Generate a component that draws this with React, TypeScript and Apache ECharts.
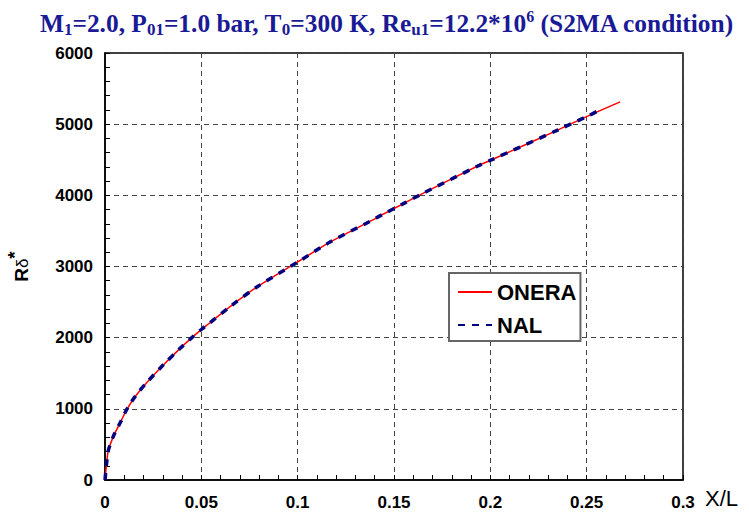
import React, { useEffect, useRef } from "react";
import * as echarts from "echarts";

// Displacement-thickness Reynolds number along the plate, two codes.
const onera_x = [0, 0.0009, 0.0017, 0.0043, 0.0078, 0.0113, 0.0156, 0.0217, 0.0304, 0.039, 0.0451, 0.0503, 0.0538, 0.0651, 0.079, 0.0998, 0.117, 0.138, 0.1432, 0.1554, 0.164, 0.1953, 0.2005, 0.2352, 0.2508, 0.2674];
const onera_y = [0, 250, 410, 610, 800, 990, 1170, 1370, 1620, 1850, 2000, 2120, 2195, 2441, 2714, 3060, 3345, 3640, 3718, 3890, 4014, 4437, 4497, 4920, 5117, 5314];

const nal_x = [0, 0.0009, 0.0017, 0.0043, 0.0078, 0.0113, 0.0156, 0.0217, 0.0304, 0.039, 0.0451, 0.0503, 0.0538, 0.0651, 0.079, 0.0998, 0.117, 0.138, 0.1432, 0.1554, 0.164, 0.1953, 0.2005, 0.2352, 0.2508, 0.2568];
const nal_y = [0, 252, 412, 612, 800, 992, 1172, 1370, 1622, 1850, 2000, 2122, 2195, 2440, 2715, 3058, 3347, 3640, 3718, 3890, 4014, 4436, 4497, 4920, 5117, 5201];

const xTicks = { min: 0, max: 0.3, step: 0.05 };
const yTicks = { min: 0, max: 6000, step: 1000 };

const zip = (xs: number[], ys: number[]) => xs.map((x, i) => [x, ys[i]]);

const SANS = "'Liberation Sans', Arial, sans-serif";
const SERIF = "'Liberation Serif', 'Times New Roman', serif";
const TITLE_BLUE = "#1a1a96";

export default function App() {
  const ref = useRef<HTMLDivElement>(null);

  useEffect(() => {
    document.body.style.margin = "0";
    if (!ref.current) return;
    const chart = echarts.init(ref.current, undefined, { renderer: "svg" });

    const tickLabel = {
      color: "#000",
      fontSize: 17,
      fontWeight: "bold" as const,
      fontFamily: SANS,
    };
    const gridLine = {
      show: true,
      lineStyle: { color: "#444", width: 1, type: [5, 4] as number[] },
    };

    chart.setOption({
      animation: false,
      backgroundColor: "#fff",
      title: {
        left: 40,
        top: 8,
        padding: 0,
        text:
          "{a|M}{s|1}{a|=2.0, P}{s|01}{a|=1.0 bar, T}{s|0}{a|=300 K, Re}{s|u1}{a|=12.2*10}{p|6}{a| (S2MA condition)}",
        textStyle: {
          rich: {
            a: { fontSize: 25.4, lineHeight: 30, fontWeight: "bold", fontFamily: SERIF, color: TITLE_BLUE, verticalAlign: "middle" },
            s: { fontSize: 17, lineHeight: 18, fontWeight: "bold", fontFamily: SERIF, color: TITLE_BLUE, verticalAlign: "bottom" },
            p: { fontSize: 16, lineHeight: 25, fontWeight: "bold", fontFamily: SERIF, color: TITLE_BLUE, verticalAlign: "top" },
          },
        },
      },
      grid: {
        left: 105,
        right: 66,
        top: 53,
        bottom: 38,
        outerBoundsMode: "none",
        containLabel: false,
        show: true,
        borderColor: "#000",
        borderWidth: 1.5,
        backgroundColor: "transparent",
      },
      legend: {
        orient: "vertical",
        left: 449,
        top: 273,
        padding: [8, 4, 5, 8],
        itemWidth: 34,
        itemHeight: 14,
        itemGap: 11,
        backgroundColor: "#fff",
        borderColor: "#666",
        borderWidth: 2,
        itemStyle: { opacity: 0 },
        textStyle: { color: "#000", fontSize: 22, fontWeight: "bold", fontFamily: SANS, lineHeight: 22 },
        data: ["ONERA", "NAL"],
      },
      xAxis: {
        type: "value",
        min: xTicks.min,
        max: xTicks.max,
        interval: xTicks.step,
        name: "X/L",
        nameLocation: "end",
        nameGap: 22,
        nameTextStyle: {
          color: "#000",
          fontSize: 22,
          fontFamily: SANS,
          align: "left",
          verticalAlign: "top",
          padding: [7, 0, 0, 0],
        },
        axisLine: { show: true, lineStyle: { color: "#000", width: 1.5 } },
        axisTick: { show: true, inside: true, length: 5, lineStyle: { color: "#000" } },
        minorTick: { show: true, splitNumber: 5, length: 5, lineStyle: { color: "#000" } },
        axisLabel: {
          ...tickLabel,
          margin: 14,
          formatter: (v: number) => String(parseFloat(v.toFixed(2))),
        },
        splitLine: gridLine,
      },
      yAxis: {
        type: "value",
        min: yTicks.min,
        max: yTicks.max,
        interval: yTicks.step,
        name: "{r|R}{d|δ}{st|*}",
        nameLocation: "middle",
        nameRotate: 90,
        nameGap: 74,
        nameTextStyle: {
          rich: {
            r: { fontSize: 19, fontWeight: "bold", fontFamily: SANS, color: "#000", lineHeight: 26, verticalAlign: "bottom" },
            d: { fontSize: 17, fontFamily: SANS, color: "#000", lineHeight: 24, verticalAlign: "bottom" },
            st: { fontSize: 19, fontWeight: "bold", fontFamily: SANS, color: "#000", lineHeight: 26, verticalAlign: "top" },
          },
        },
        axisLine: { show: true, lineStyle: { color: "#000", width: 1.5 } },
        axisTick: { show: true, inside: true, length: 5, lineStyle: { color: "#000" } },
        minorTick: { show: true, splitNumber: 5, length: 5, lineStyle: { color: "#000" } },
        axisLabel: { ...tickLabel, margin: 12, formatter: (v: number) => String(v) },
        splitLine: gridLine,
      },
      series: [
        {
          name: "ONERA",
          type: "line",
          data: zip(onera_x, onera_y),
          symbol: "none",
          showSymbol: false,
          smooth: 0.3,
          lineStyle: { color: "#ff0000", width: 1.5 },
          itemStyle: { color: "#ff0000" },
        },
        {
          name: "NAL",
          type: "line",
          data: zip(nal_x, nal_y),
          symbol: "none",
          showSymbol: false,
          smooth: 0.3,
          lineStyle: { color: "#000080", width: 3.5, type: [7, 7] },
          itemStyle: { color: "#000080" },
        },
      ],
    });

    return () => chart.dispose();
  }, []);

  return <div ref={ref} style={{ width: 749, height: 518 }} />;
}
